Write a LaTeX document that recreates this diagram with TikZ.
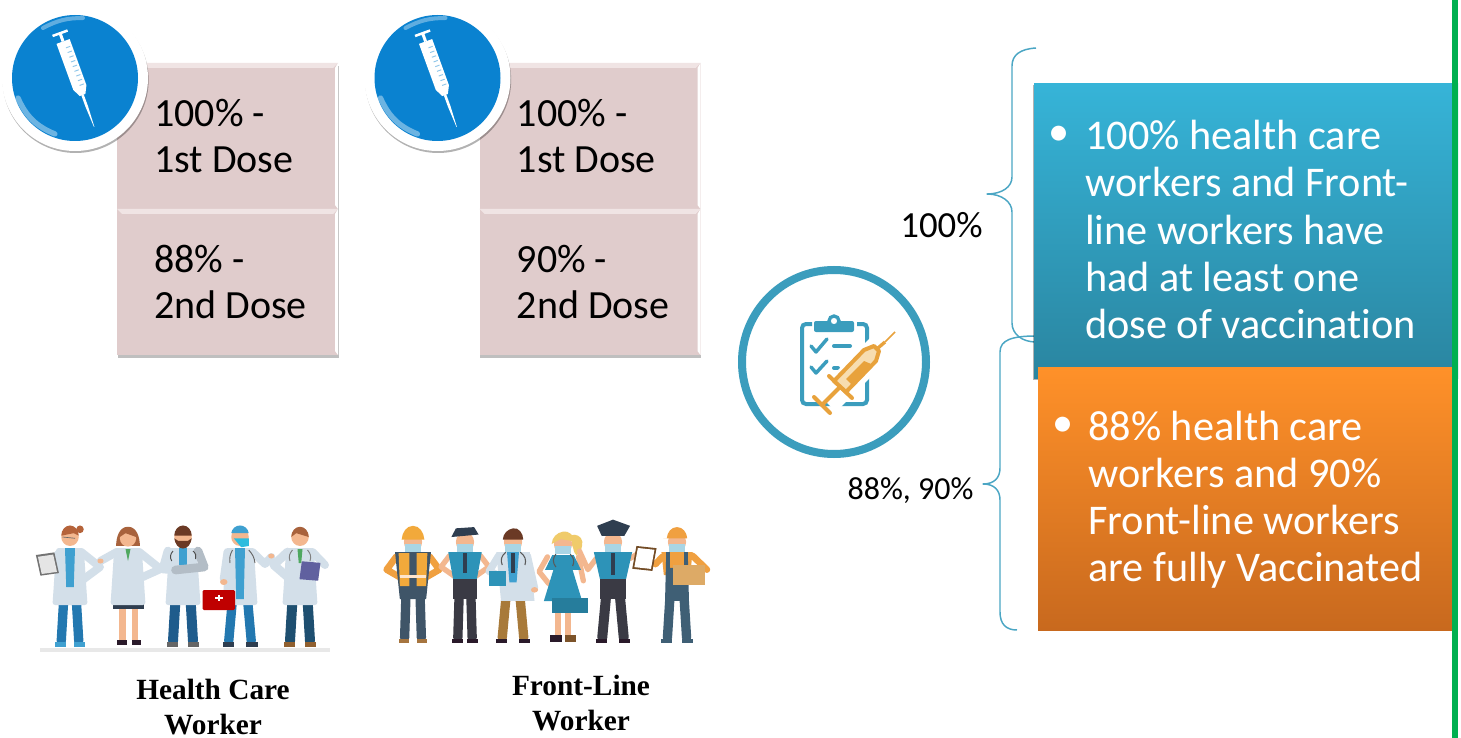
\documentclass[tikz,border=0pt]{standalone}
\usepackage{fontspec}
\setmainfont[Ligatures=NoCommon]{Carlito}
\newfontfamily\labelfont{Liberation Serif}
\usetikzlibrary{shadows,calc}
\definecolor{pinkbox}{HTML}{E0CCCC}
\definecolor{pinklite}{HTML}{F0E4E4}
\definecolor{icoblue}{HTML}{0A82D0}
\definecolor{ringblue}{HTML}{3B9DBD}
\definecolor{bracec}{HTML}{4BA6C4}
\definecolor{syr}{HTML}{E8A23C}
\definecolor{syrlite}{HTML}{F7DDB0}
\definecolor{coatc}{HTML}{D3DFE9}
\definecolor{skinc}{HTML}{F3B78F}
\definecolor{scrub}{HTML}{3FA0D0}
\definecolor{scrubpant}{HTML}{2378B0}
\definecolor{navypant}{HTML}{1F5C8C}
\definecolor{deeppant}{HTML}{1E4F70}
\definecolor{hairred}{HTML}{B5633A}
\definecolor{hairbrown}{HTML}{A8623C}
\definecolor{hairdark}{HTML}{6B3A25}
\definecolor{tiegreen}{HTML}{4FA860}
\definecolor{slate}{HTML}{3F5568}
\definecolor{overall}{HTML}{3F5F75}
\definecolor{graypant}{HTML}{3A3A44}
\definecolor{capnavy}{HTML}{2F3E50}
\definecolor{tanpant}{HTML}{A87A3A}
\definecolor{bootc}{HTML}{A6753F}
\definecolor{shoedark}{HTML}{2A1A2A}
\definecolor{maskc}{HTML}{A9D5E5}
\definecolor{shirtb}{HTML}{2D93B8}
\definecolor{amber}{HTML}{F0A040}
\definecolor{vest}{HTML}{F2A93B}
\definecolor{boxtan}{HTML}{DDAA66}
\definecolor{blond}{HTML}{F0CB6A}
\definecolor{greenbar}{HTML}{00B050}
\tikzset{
  x=0.75pt,y=-0.75pt,
  doseback/.style={fill=pinkbox,draw=none,drop shadow={shadow xshift=0.6pt,shadow yshift=-2.2pt,fill=black,opacity=.25}},
  dosetxt/.style={anchor=west,align=left,text=black,font=\fontsize{30}{33.8}\selectfont,inner sep=0pt},
  sidetxt/.style={anchor=west,align=left,text=white,font=\fontsize{31.7}{35.3}\selectfont,inner sep=0pt},
  bullettxt/.style={anchor=center,text=white,font=\fontsize{31.7}{35.3}\selectfont,inner sep=0pt},
  wholab/.style={align=center,text=black,font=\labelfont\bfseries\fontsize{22}{25.6}\selectfont,inner sep=0pt},
  brace/.style={draw=bracec,line width=1.1pt,line join=round},
  limb/.style={line width=#1,line cap=round,line join=round},
  hcfig/.style={xscale=1.25},
  flfig/.style={scale=.92,xscale=1.3},
  hchead/.style={yscale=1.28},
  flhead/.style={xscale=.95,yscale=1.35},
}
\newcommand\syrbadge[3]{%
  \node[circle,fill=white,minimum size=109.5pt,inner sep=0pt,drop shadow={shadow xshift=0.5pt,shadow yshift=-1.5pt,fill=black,opacity=.3}] (#3) at (#1,#2) {};
  \fill[icoblue] (#1,#2) circle[radius=63];
  \draw[white,opacity=.35,line width=3pt,line cap=round] ($(#1,#2)+(-32,-50)$) to[bend left=14] ($(#1,#2)+(8,-60)$);
  \draw[white,opacity=.4,line width=4pt,line cap=round] ($(#1,#2)+(-57,20)$) to[bend right=22] ($(#1,#2)+(-20,56)$);
  \begin{scope}[shift={(#1-15,#2-45)},rotate=20]
    \fill[white] (-8,-1) -- (8,-1) -- (8,1.5) -- (1.5,1.5) -- (1.5,9) -- (-1.5,9) -- (-1.5,1.5) -- (-8,1.5) -- cycle;
    \fill[white] (-7,9) -- (7,9) -- (7,58) -- (3,66) -- (-3,66) -- (-7,58) -- cycle;
    \fill[white] (-1.3,66) -- (1.3,66) -- (1.3,78) -- (.2,100) -- (-.2,100) -- (-1.3,78) -- cycle;
    \foreach \t in {16,21,...,56} \draw[icoblue!45,line width=.7pt] (0.5,\t) -- (5,\t);
  \end{scope}}
\newcommand\dosetable[4]{%
  \node[doseback,minimum width=165.75pt,minimum height=109.5pt,inner sep=0pt] (#2a) at (#1+110.5,136) {};
  \node[doseback,minimum width=165.75pt,minimum height=109.5pt,inner sep=0pt] (#2b) at (#1+110.5,282) {};
  \fill[pinklite] (#1,63) -- (#1+221,63) -- (#1+216,68) -- (#1+5,68) -- cycle;
  \fill[white] (#1+218,68) -- (#1+221,63) -- (#1+221,209) -- (#1+218,205) -- cycle;
  \fill[pinklite] (#1,209) -- (#1+221,209) -- (#1+216,214) -- (#1+5,214) -- cycle;
  \fill[white] (#1+218,214) -- (#1+221,209) -- (#1+221,355) -- (#1+218,351) -- cycle;
  \node[dosetxt] (#2t1) at (#1+37,136) {100\% -\\1st Dose};
  \node[dosetxt] (#2t2) at (#1+37,282) {#3\% -\\2nd Dose};}
\newcommand\legs[5]{%
  \draw[#1,limb=#5] (-#3,62) -- (-#4,104);
  \draw[#1,limb=#5] (#3,62) -- (#4,104);
  \fill[#2] (-#4-5,105) rectangle (-#4+4,110);
  \fill[#2] (#4-4,105) rectangle (#4+5,110);}
\newcommand\coat{%
  \fill[coatc,rounded corners=2pt] (-11,11) -- (11,11) -- (14,68) -- (-14,68) -- cycle;}
\begin{document}
\begin{tikzpicture}
\useasboundingbox (0,0) rectangle (1461,738);
\fill[white] (0,0) rectangle (1461,738);

\dosetable{117}{hc}{88}{}
\dosetable{479.5}{fl}{90}{}
\syrbadge{75}{78}{hcbadge}
\syrbadge{437.5}{78}{flbadge}

\fill[black!9] (40,648) rectangle (330,652);

% health care workers
\begin{scope}[shift={(70,537)},hcfig]
  \legs{scrubpant}{scrub}{5}{7}{7pt}
  \draw[coatc,limb=6pt] (-8,15) -- (-18,30);
  \draw[coatc,limb=6pt] (9,15) -- (24,30) -- (10,43);
  \coat \fill[scrub] (-4,11) -- (4,11) -- (3,50) -- (-3,50) -- cycle;
  \begin{scope}[hchead]
    \fill[skinc] (0,0) circle[radius=7];
    \fill[hairred] (-7,-1) arc[start angle=180,end angle=360,x radius=7,y radius=8] -- (3,-3) -- cycle;
    \fill[hairred] (8,-6) circle[radius=3];
    \draw[black!60,line width=.5pt] (-6,0) -- (4,1);
  \end{scope}
  \begin{scope}[rotate=10]
    \fill[black!55] (-30,13) rectangle (-15,34);
    \fill[black!10] (-28.7,15) rectangle (-16.3,32.5);
  \end{scope}
\end{scope}
\begin{scope}[shift={(128,537)},hcfig]
  \fill[skinc] (-7,62) rectangle (-2,104); \fill[skinc] (3,62) rectangle (8,104);
  \fill[shoedark] (-9,103) rectangle (-1,108); \fill[shoedark] (3,103) rectangle (10,108);
  \draw[coatc,limb=6pt] (-9,15) -- (-22,24);
  \draw[coatc,limb=6pt] (9,15) -- (26,32) -- (10,41);
  \fill[capnavy] (-12,58) rectangle (13,72);
  \coat \fill[tiegreen] (-2,12) -- (2,12) -- (0,24) -- cycle;
  \fill[skinc] (-22,24) circle[radius=2.5];
  \begin{scope}[hchead]
    \fill[hairbrown] (-9.5,7) to[out=90,in=180] (0,-8) to[out=0,in=90] (9.5,7) -- cycle;
    \fill[skinc] (0,1) circle[radius=6.5];
    \fill[hairbrown] (-6.5,0) arc[start angle=180,end angle=360,x radius=6.5,y radius=7] -- (-2,-3) -- cycle;
  \end{scope}
\end{scope}
\begin{scope}[shift={(183,537)},hcfig]
  \legs{navypant}{black!60}{6}{8}{7.5pt}
  \coat \fill[scrub] (-3,11) -- (3,11) -- (3,28) -- (-3,28) -- cycle;
  \draw[coatc,limb=6.5pt] (-12,14) -- (-16,32) -- (8,34);
  \draw[coatc!85!black,limb=6.5pt] (12,14) -- (17,30) -- (-6,33);
  \draw[black!70,line width=.7pt] (-8,14) to[bend right=30] (-9,24);
  \draw[black!70,line width=.7pt] (8,14) to[bend left=30] (10,22);
  \begin{scope}[hchead]
    \fill[skinc] (0,0) circle[radius=7];
    \fill[hairdark] (-7,-1) arc[start angle=180,end angle=360,x radius=7,y radius=8] -- cycle;
    \fill[hairdark] (-7,1) to[out=-80,in=180] (0,9) to[out=0,in=-100] (7,1) -- (4,3) -- (-4,3) -- cycle;
  \end{scope}
\end{scope}
\begin{scope}[shift={(240,537)},hcfig]
  \legs{scrubpant}{capnavy}{6}{9}{7pt}
  \coat \fill[scrub] (-4,11) -- (4,11) -- (3,62) -- (-3,62) -- cycle;
  \draw[coatc,limb=6pt] (-10,15) -- (-13,42);
  \draw[coatc,limb=6pt] (10,15) -- (20,27) -- (25,20);
  \fill[skinc] (-13,45) circle[radius=3]; \fill[skinc] (25,19) circle[radius=2.5];
  \draw[black!60,line width=.7pt] (-6,13) to[bend right=15] (-8,26);
  \draw[black!60,line width=.7pt] (7,13) to[bend left=15] (12,26);
  \begin{scope}[hchead]
    \fill[skinc] (0,0) circle[radius=7];
    \fill[scrub] (-7,-3) to[out=80,in=180] (0,-9) to[out=0,in=100] (7,-3) -- cycle;
    \fill[scrub!70!cyan] (-5,1) -- (7,1) -- (7,7) -- (1,8) -- cycle;
  \end{scope}
  \fill[red!75!black,rounded corners=1pt] (-30,53) rectangle (-4,73);
  \fill[white] (-20,60) rectangle (-14,62); \fill[white] (-18,58) rectangle (-16,64);
\end{scope}
\begin{scope}[shift={(300,537)},hcfig]
  \legs{deeppant}{brown!75!black}{6}{8}{7.5pt}
  \draw[coatc,limb=6.5pt] (-10,15) -- (-21,28) -- (-8,42);
  \draw[coatc,limb=6pt] (10,15) -- (20,28);
  \coat \fill[tiegreen] (-2,12) -- (2,12) -- (1,26) -- (-1,26) -- cycle;
  \draw[black!50,line width=.7pt] (-6,13) to[bend right=25] (-8,24);
  \draw[black!50,line width=.7pt] (6,13) to[bend left=25] (8,24);
  \begin{scope}[hchead]
    \fill[skinc] (0,0) circle[radius=7];
    \fill[hairbrown] (-7,0) arc[start angle=180,end angle=360,x radius=7,y radius=8] -- (-3,-3) -- cycle;
  \end{scope}
  \begin{scope}[rotate=-6]
    \fill[blue!25!gray] (4,24) rectangle (19,42);
  \end{scope}
\end{scope}

% front-line workers
\begin{scope}[shift={(413,542)},flfig]
  \legs{slate}{bootc}{6}{7}{7pt}
  \draw[amber,limb=5pt] (-14,16) -- (-22,30) -- (-10,39);
  \draw[amber,limb=5pt] (14,16) -- (22,30) -- (10,39);
  \fill[slate] (-15,11) -- (15,11) -- (11,62) -- (-11,62) -- cycle;
  \fill[vest] (-12,12) -- (-3,12) -- (-3,48) -- (-11,48) -- cycle;
  \fill[vest] (12,12) -- (3,12) -- (3,48) -- (11,48) -- cycle;
  \fill[white!80!orange] (-11,36) rectangle (11,39);
  \begin{scope}[flhead]
    \fill[skinc] (0,0) circle[radius=8];
    \fill[maskc] (-7,2) rectangle (7,8);
    \fill[vest] (-10,-2) to[out=85,in=180] (0,-13) to[out=0,in=95] (10,-2) -- cycle;
  \end{scope}
\end{scope}
\begin{scope}[shift={(465,542)},flfig]
  \legs{graypant}{shoedark}{5}{6}{7pt}
  \draw[skinc,limb=4pt] (-13,15) -- (-20,27) -- (-8,38);
  \draw[skinc,limb=4pt] (13,15) -- (20,27) -- (8,38);
  \fill[shirtb] (-14,11) -- (14,11) -- (10,40) -- (-10,40) -- cycle;
  \fill[graypant] (-10,40) rectangle (10,62);
  \fill[capnavy] (-1.5,12) rectangle (1.5,34);
  \begin{scope}[flhead]
    \fill[skinc] (0,0) circle[radius=8];
    \fill[maskc] (-7,2) rectangle (7,8);
    \fill[capnavy] (-12,-4) -- (12,-6) -- (8,-12) -- (-8,-11) -- cycle;
  \end{scope}
\end{scope}
\begin{scope}[shift={(513,542)},flfig]
  \legs{tanpant}{shoedark}{6}{9}{7pt}
  \draw[coatc,limb=5.5pt] (-12,15) -- (-20,32) -- (-8,38);
  \draw[coatc,limb=5.5pt] (12,15) -- (18,50);
  \fill[coatc] (-14,11) -- (14,11) -- (18,64) -- (-10,64) -- cycle;
  \fill[scrub] (-5,11) -- (5,11) -- (3,44) -- (-3,44) -- cycle;
  \fill[capnavy] (-1.5,12) rectangle (1.5,34);
  \fill[shirtb] (-20,32) rectangle (-6,48);
  \draw[black!65,line width=.8pt] (-6,11) to[bend right=30] (-9,25);
  \draw[black!65,line width=.8pt] (6,11) to[bend left=30] (10,25);
  \fill[skinc] (18,52) circle[radius=3];
  \begin{scope}[flhead]
    \fill[skinc] (0,0) circle[radius=8];
    \fill[maskc] (-7,2) rectangle (7,8);
    \fill[hairdark] (-9,-2) to[out=85,in=190] (0,-11) to[out=10,in=90] (9,-2) -- cycle;
  \end{scope}
\end{scope}
\begin{scope}[shift={(563,544)},flfig]
  \fill[skinc] (-7,52) rectangle (-2,100); \fill[skinc] (2,52) rectangle (7,100);
  \fill[shoedark] (-11,99) rectangle (-1,106); \fill[brown!65!black] (2,99) rectangle (11,106);
  \draw[skinc,limb=4pt] (-13,14) -- (-20,30) -- (-12,43);
  \draw[skinc,limb=4pt] (13,14) -- (17,40);
  \fill[shirtb] (-9,12) -- (9,12) -- (15,28) -- (8,28) -- (16,62) -- (-16,62) -- (-8,28) -- (-15,28) -- cycle;
  \fill[shirtb!85!black] (-9,59) rectangle (21,75);
  \draw[black!65,line width=.8pt] (-6,11) to[bend right=30] (-6,25);
  \draw[black!65,line width=.8pt] (6,11) to[bend left=30] (8,24);
  \begin{scope}[flhead]
    \fill[blond] (7,-7) to[out=20,in=100] (17,-2) to[out=-90,in=30] (12,9) to[out=150,in=-60] (8,1) -- cycle;
    \fill[skinc] (0,0) circle[radius=8];
    \fill[maskc] (-7,2) rectangle (7,8);
    \fill[blond] (-10,0) to[out=85,in=190] (0,-10) to[out=10,in=90] (10,-2) -- (-2,-4) -- cycle;
  \end{scope}
\end{scope}
\begin{scope}[shift={(613,542)},flfig]
  \legs{graypant}{shoedark}{6}{9}{7.5pt}
  \draw[skinc,limb=4pt] (-14,18) -- (-21,30) -- (-28,10);
  \draw[skinc,limb=4pt] (14,18) -- (22,12);
  \fill[shirtb] (-16,11) -- (16,11) -- (11,40) -- (-11,40) -- cycle;
  \fill[graypant] (-11,40) rectangle (11,62);
  \fill[capnavy] (-1.5,12) rectangle (1.5,36);
  \begin{scope}[flhead]
    \fill[skinc] (0,0) circle[radius=8];
    \fill[maskc] (-7,2) rectangle (7,8);
    \fill[capnavy] (-10,-5) -- (10,-5) -- (15,-13) -- (0,-18) -- (-14,-13) -- cycle;
  \end{scope}
\end{scope}
\begin{scope}[shift={(677,542)},flfig]
  \legs{overall}{overall}{6}{8}{7pt}
  \draw[amber,limb=5pt] (-12,16) -- (-18,24);
  \draw[amber,limb=5pt] (13,15) -- (25,30);
  \fill[amber] (-13,11) -- (13,11) -- (11,36) -- (-11,36) -- cycle;
  \fill[overall] (-9,11) -- (-6,11) -- (-6,28) -- (6,28) -- (6,11) -- (9,11) -- (10,64) -- (-10,64) -- cycle;
  \fill[boxtan] (-3,25) rectangle (23,47);
  \begin{scope}[flhead]
    \fill[skinc] (0,0) circle[radius=8];
    \fill[maskc] (-7,2) rectangle (7,8);
    \fill[amber] (-9,-3) to[out=85,in=180] (0,-12) to[out=0,in=95] (9,-3) -- (-12,-3) -- cycle;
  \end{scope}
  \begin{scope}[rotate=-8]
    \fill[brown!60!black] (-33,9) rectangle (-16,34);
    \fill[white] (-31.5,11) rectangle (-17.5,32);
  \end{scope}
\end{scope}

\node[wholab] (hclabel) at (213,707) {Health Care\\Worker};
\node[wholab] (fllabel) at (581,703) {Front-Line\\Worker};

% braces
\draw[brace] (1036,48) .. controls (1020,49) and (1012,55) .. (1012,66) -- (1012,177) .. controls (1012,187) and (1002,194) .. (987,194) .. controls (1002,194) and (1012,202) .. (1012,212) -- (1012,323) .. controls (1012,334) and (1022,342) .. (1036,342);
\draw[brace] (1036,336) .. controls (1012,336) and (1000,340) .. (1000,352) -- (1000,468) .. controls (1000,478) and (994,484) .. (983,484) .. controls (994,484) and (1000,490) .. (1000,500) -- (1000,612) .. controls (1000,624) and (1006,630) .. (1017,630);
\node[inner sep=0pt,font=\fontsize{27.6}{30}\selectfont] (pa) at (941.5,225) {100\%};
\node[inner sep=0pt,font=\fontsize{24}{28}\selectfont] (pb) at (910.5,491) {88\%, 90\%};

% clipboard badge
\node[circle,draw=ringblue,line width=6pt,fill=white,minimum size=138pt,inner sep=0pt] (ring) at (834,362) {};
\draw[ringblue,line width=3pt,rounded corners=3pt] (812,324) -- (802,324) -- (802,404) -- (867,404) -- (867,324) -- (857,324);
\fill[ringblue,rounded corners=1.5pt] (814,321) rectangle (854,332);
\draw[ringblue,line width=2.5pt,fill=white] (834,321) circle[radius=5];
\draw[ringblue,line width=2.6pt,line cap=round,line join=round] (811,346) -- (816,352) -- (827,339);
\draw[ringblue,line width=2.6pt,line cap=round,line join=round] (811,367) -- (816,373) -- (827,361);
\draw[ringblue,line width=3pt,line cap=round] (834,346) -- (850,346);
\draw[ringblue,line width=3pt,line cap=round] (834,368) -- (838,368);
\draw[white,line width=21pt] (826,402) -- (884,344);
\draw[syr,line width=3pt,line cap=round] (814,397) -- (830,413);
\draw[syr,line width=3pt,line cap=round] (822,405) -- (840,387);
\draw[syr,line width=3pt,line cap=round] (829,376) -- (852,398);
\draw[syr,line width=3pt,line join=round,fill=syrlite] (834,381) -- (864,350) -- (874,346) -- (879,351) -- (876,361) -- (846,392) -- cycle;
\fill[syr] (846,379) -- (864,361) -- (871,364) -- (852,385) -- cycle;
\draw[syr,line width=2.5pt] (878,348) -- (885,342);
\draw[syr,line width=1.3pt] (885,342) -- (895,332);

% message boxes
\node[minimum width=318pt,minimum height=221.25pt,inner sep=0pt,
  top color={rgb,255:red,54;green,180;blue,216},bottom color={rgb,255:red,42;green,133;blue,160},
  drop shadow={shadow xshift=-1pt,shadow yshift=-1pt,fill=black,opacity=.3}] (bluebox) at (1246,231) {};
\node[minimum width=311.25pt,minimum height=197.25pt,inner sep=0pt,
  top color={rgb,255:red,255;green,145;blue,41},bottom color={rgb,255:red,200;green,105;blue,30},
  drop shadow={shadow xshift=0pt,shadow yshift=-1pt,fill=black,opacity=.3}] (orangebox) at (1245.5,498.5) {};
\fill[greenbar] (1452,0) rectangle (1457.5,738);
\node[bullettxt] (b1) at (1059,136) {•};
\node[sidetxt] (t1) at (1085,229.5) {100\% health care\\workers and Front-\\line workers have\\had at least one\\dose of vaccination};
\node[bullettxt] (b2) at (1063,427) {•};
\node[sidetxt] (t2) at (1088,500) {88\% health care\\workers and 90\%\\Front-line workers\\are fully Vaccinated};
\end{tikzpicture}
\end{document}
